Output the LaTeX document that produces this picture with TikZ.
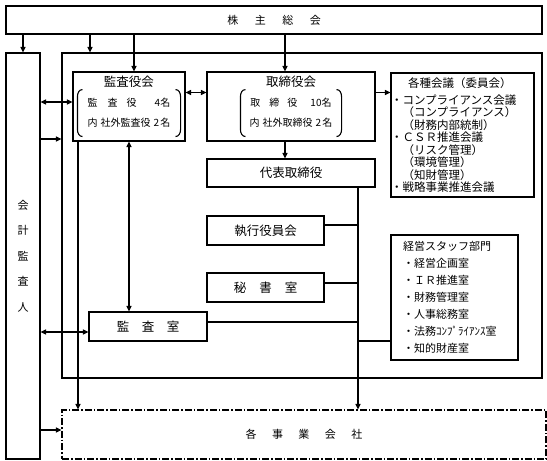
\documentclass[tikz,border=0pt]{standalone}
\usepackage{fontspec}
\setmainfont{Noto Sans CJK JP}
\usetikzlibrary{arrows.meta}

% big round brackets inside a board box: #1 node, #2 inset from the side
\newcommand{\kakko}[2]{%
  \draw ([shift={(#2pt+5pt,52pt)}]#1.south west) to[out=180,in=90] ([shift={(#2pt,45pt)}]#1.south west)
    -- ([shift={(#2pt,12pt)}]#1.south west) to[out=-90,in=180] ([shift={(#2pt+5pt,5pt)}]#1.south west);
  \draw ([shift={(-#2pt-5pt,52pt)}]#1.south east) to[out=0,in=90] ([shift={(-#2pt,45pt)}]#1.south east)
    -- ([shift={(-#2pt,12pt)}]#1.south east) to[out=-90,in=0] ([shift={(-#2pt-5pt,5pt)}]#1.south east);
}
\newcommand{\aki}[1]{\hspace{#1pt}}

\begin{document}
\begin{tikzpicture}[x=1pt,y=-1pt,line width=1.1pt,
  >={Triangle[length=5.5pt,width=5pt]},
  box/.style={draw,inner sep=0pt},
  big/.style={font=\fontsize{12.5}{15}\selectfont},
  small/.style={font=\fontsize{11}{13}\selectfont}]

\useasboundingbox (0,0) rectangle (547,461);

% Columns and rows for the connectors
\coordinate (c1) at (90,0);
\coordinate (c2) at (134,0);
\coordinate (c3) at (285,0);
\coordinate (c4) at (78,0);
\coordinate (c5) at (129,0);
\coordinate (c6) at (358,0);
\coordinate (r1) at (0,102);
\coordinate (r2) at (0,92.5);
\coordinate (r3) at (0,139);
\coordinate (r4) at (0,332);
\coordinate (r5) at (0,430);
\coordinate (r6) at (0,225);
\coordinate (r7) at (0,283);
\coordinate (r8) at (0,322);
\coordinate (r9) at (0,341);

% Top and outer boxes
\node[box,small,minimum width=536,minimum height=28] (soukai) at (274,20)
  {株\aki{16.5}主\aki{16.5}総\aki{16.5}会};
\node[box,minimum width=34,minimum height=406,align=center,
  font=\fontsize{11}{25.5}\selectfont] (kaikei) at (23,256) {会\\計\\監\\査\\人};
\node[box,minimum width=480,minimum height=325] (naibu) at (302,215.5) {};
\node[box,small,minimum width=484,minimum height=49,
  dash pattern=on 7pt off 2pt on 1.5pt off 2pt] (jigyo) at (304,434.5)
  {各\aki{15.5}事\aki{15.5}業\aki{15.5}会\aki{15.5}社};

% Boards
\node[box,minimum width=112,minimum height=67,font=\fontsize{10}{20}\selectfont] (kansayakukai) at (129,106.5)
  {\begin{tabular}{@{}c@{}}{\fontsize{12.5}{14}\selectfont 監査役会}\\
   監\aki{10}査\aki{9}役\aki{18}4名\\
   内\aki{3}社外監査役\aki{3}2\aki{1}名\\[9pt]\end{tabular}};
\node[box,minimum width=168,minimum height=67,font=\fontsize{10}{20}\selectfont] (torishimariyakukai) at (291,106.5)
  {\begin{tabular}{@{}c@{}}{\fontsize{12.5}{14}\selectfont 取締役会}\\
   取\aki{9}締\aki{8}役\aki{13}10名\\
   内\aki{3}社外取締役\aki{3}2\aki{1}名\\[9pt]\end{tabular}};
\kakko{kansayakukai}{5}
\kakko{torishimariyakukai}{34}

\node[box,minimum width=143,minimum height=124,text width=143,align=left,
  font=\fontsize{11.5}{12.5}\selectfont] (kaigi) at (462.5,135)
  {\hspace*{17pt}各種会議（委員会）\\[4.5pt]
   ・コンプライアンス会議\\
   \hspace*{1em}（コンプライアンス）\\
   \hspace*{1em}（財務内部統制）\\
   ・ＣＳＲ推進会議\\
   \hspace*{1em}（リスク管理）\\
   \hspace*{1em}（環境管理）\\
   \hspace*{1em}（知財管理）\\
   ・戦略事業推進会議\\[2pt]};

% Executive side
\node[box,big,minimum width=168,minimum height=28] (daihyo) at (291,173) {代表取締役};
\node[box,big,minimum width=117,minimum height=29] (shikko) at (265.5,230.5) {執行役員会};
\node[box,big,minimum width=117,minimum height=29] (hisho) at (265.5,287.5) {秘\aki{13}書\aki{13}室};
\node[box,big,minimum width=118,minimum height=29] (kansashitsu) at (148,326.5) {監\aki{12.5}査\aki{12.5}室};
\node[box,minimum width=127,minimum height=125,inner xsep=12pt,text width=103,align=left,
  font=\fontsize{11}{17}\selectfont] (staff) at (454.5,297.5)
  {経営スタッフ部門\\
   ・経営企画室\\
   ・ＩＲ推進室\\
   ・財務管理室\\
   ・人事総務室\\
   ・法務ｺﾝﾌﾟﾗｲｱﾝｽ室\\
   ・知的財産室};

% From the shareholders meeting
\draw[->] (soukai.south -| kaikei.north) -- (kaikei.north);
\draw[->] (soukai.south -| c1) -- (naibu.north -| c1);
\draw[->] (soukai.south -| c2) -- (kansayakukai.north -| c2);
\draw[->] (soukai.south -| c3) -- (torishimariyakukai.north -| c3);

% Auditor links
\draw[<->] (kaikei.east |- r1) -- (kansayakukai.west |- r1);
\draw[->] (kaikei.east |- r3) -- (naibu.west |- r3);
\draw[<->] (kaikei.east |- r4) -- (kansashitsu.west |- r4);
\draw[->] (kaikei.east |- r5) -- (jigyo.west |- r5);

% Boards
\draw[<->] (kansayakukai.east |- r2) -- (torishimariyakukai.west |- r2);
\draw[->] (torishimariyakukai.east |- r2) -- (kaigi.west |- r2);
\draw[->] (torishimariyakukai.south -| c3) -- (daihyo.north -| c3);
\draw[<->] (kansayakukai.south -| c5) -- (kansashitsu.north -| c5);
\draw[->] (kansayakukai.south -| c4) -- (jigyo.north -| c4);

% Trunk down to the companies
\draw[->] (daihyo.south -| c6) -- (jigyo.north -| c6);
\draw (shikko.east |- r6) -- (c6 |- r6);
\draw (hisho.east |- r7) -- (c6 |- r7);
\draw (kansashitsu.east |- r8) -- (c6 |- r8);
\draw (staff.west |- r9) -- (c6 |- r9);

\end{tikzpicture}
\end{document}
